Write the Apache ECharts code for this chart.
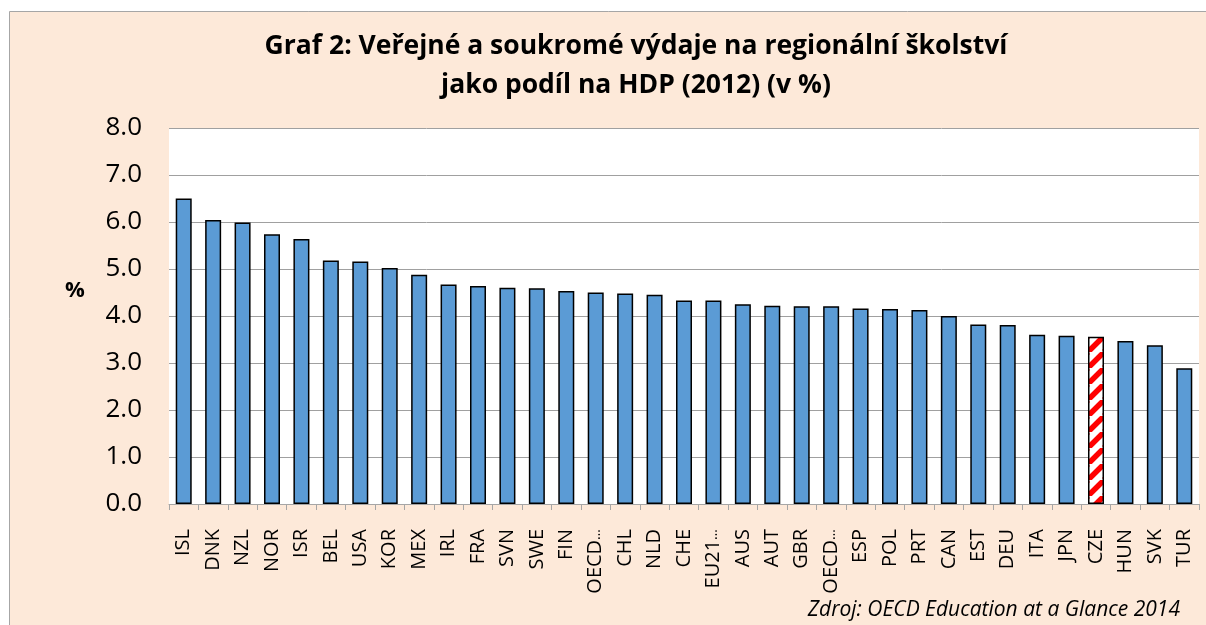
<!DOCTYPE html>
<html>
<head>
<meta charset="utf-8">
<script src="https://cdn.jsdelivr.net/npm/echarts@6/dist/echarts.min.js"></script>
<style>
html,body{margin:0;padding:0;background:#fff;overflow:hidden;}
#c{width:1206px;height:625px;}
</style>
</head>
<body>
<div id="c"></div>
<script>
const categories = ["ISL","DNK","NZL","NOR","ISR","BEL","USA","KOR","MEX","IRL","FRA","SVN","SWE","FIN","OECD…","CHL","NLD","CHE","EU21…","AUS","AUT","GBR","OECD…","ESP","POL","PRT","CAN","EST","DEU","ITA","JPN","CZE","HUN","SVK","TUR"];
const values = [6.50,6.04,5.99,5.74,5.64,5.18,5.16,5.02,4.88,4.67,4.64,4.60,4.59,4.53,4.50,4.48,4.45,4.33,4.33,4.25,4.22,4.21,4.21,4.16,4.15,4.13,4.00,3.82,3.81,3.60,3.58,3.56,3.47,3.38,2.89];
const highlight = "CZE";
const titleLines = ["Graf 2: Veřejné a soukromé výdaje na regionální školství","jako podíl na HDP (2012) (v %)"];
const yAxisName = "%";
const sourceText = "Zdroj: OECD Education at a Glance 2014";

// hatch pattern for highlighted bar
const s = 16;
const pc = document.createElement('canvas');
pc.width = s; pc.height = s;
const ctx = pc.getContext('2d');
ctx.fillStyle = '#ffffff'; ctx.fillRect(0,0,s,s);
ctx.strokeStyle = '#ff0000'; ctx.lineWidth = 5.5;
ctx.beginPath();
for (let k=-1;k<=1;k++){ ctx.moveTo(k*s, s); ctx.lineTo(k*s+s, 0); }
ctx.stroke();

const data = values.map((v,i)=> categories[i]===highlight
  ? {value:v, itemStyle:{color:{image:pc, repeat:'repeat'}}}
  : v);

const FONT = "'Open Sans'";
const chart = echarts.init(document.getElementById('c'));
chart.setOption({
  animation:false,
  backgroundColor:'#ffffff',
  graphic:[
    {type:'rect', z:-10, shape:{x:9.5,y:11.5,width:1300,height:700}, style:{fill:'#FDE9D9', stroke:'#A6A6A6', lineWidth:1}},
    {type:'text', x:636, y:46, style:{text:titleLines[0], textAlign:'center', textVerticalAlign:'middle', font:"bold 26.5px 'Open Sans'", fill:'#000'}},
    {type:'text', x:636, y:85, style:{text:titleLines[1], textAlign:'center', textVerticalAlign:'middle', font:"bold 26.5px 'Open Sans'", fill:'#000'}},
    {type:'text', x:75, y:291, style:{text:yAxisName, textAlign:'center', textVerticalAlign:'middle', font:"bold 22px 'Open Sans'", fill:'#000'}},
    {type:'text', x:1180, y:610, style:{text:sourceText, textAlign:'right', textVerticalAlign:'middle', font:"italic 21px 'Open Sans'", fill:'#000'}}
  ],
  grid:{left:169, right:7, top:128, bottom:121, show:true, backgroundColor:'#ffffff', borderWidth:0},
  xAxis:{
    type:'category', data:categories,
    axisLine:{show:true, lineStyle:{color:'#A6A6A6', width:1}},
    axisTick:{show:true, length:6, lineStyle:{color:'#A6A6A6'}, interval:0},
    axisLabel:{interval:0, rotate:90, margin:25, fontSize:20, fontFamily:FONT, color:'#000',
      formatter: v => v.endsWith('…') ? '{a|' + v.slice(0,-1) + '}{e|…}' : v,
      rich:{a:{fontSize:20, fontFamily:FONT, color:'#000'}, e:{fontSize:14, fontFamily:FONT, color:'#000'}}
    }
  },
  yAxis:{
    type:'value', min:0, max:8, interval:1,
    axisLine:{show:false}, axisTick:{show:false},
    axisLabel:{formatter:v=>v.toFixed(1), fontSize:26, fontFamily:FONT, color:'#000', margin:27},
    splitLine:{lineStyle:{color:'#A0A0A0', width:1}}
  },
  series:[{
    type:'bar', data:data, barWidth:16,
    itemStyle:{color:'#5B9BD5', borderColor:'#000', borderWidth:1.5}
  }]
});
</script>
</body>
</html>
